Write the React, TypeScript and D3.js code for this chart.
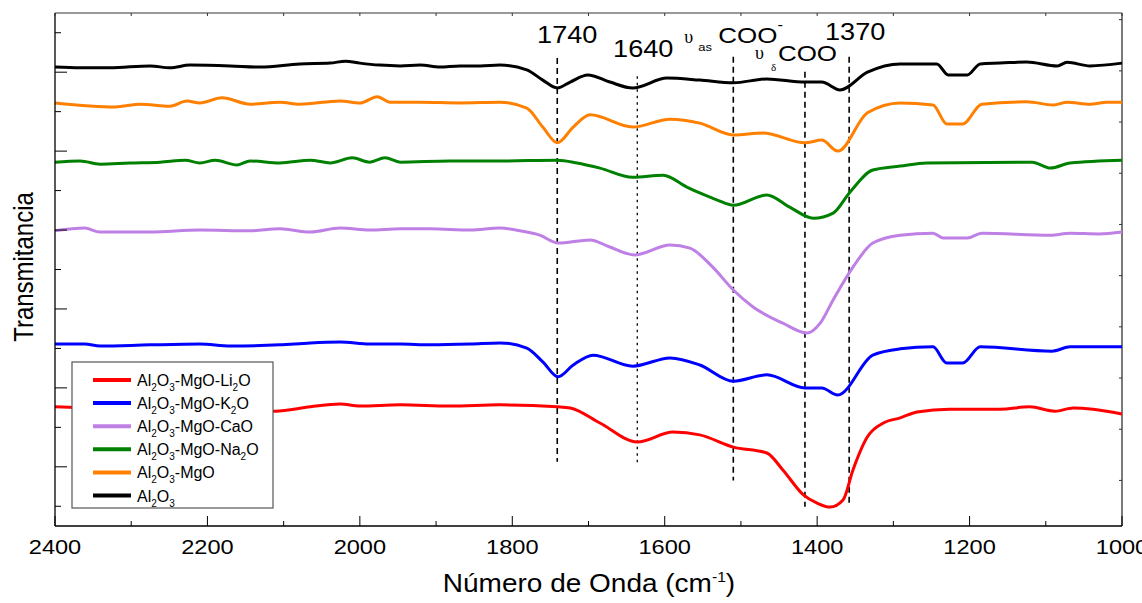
import * as d3 from 'd3';

// FTIR spectra, [wavenumber cm-1, transmittance a.u.]
const li2oData: [number, number][] = [
  [2400, 30.2], [2341, 29.9], [2275, 29.9], [2210, 29.6], [2144, 29.4], [2111, 29.1],
  [2065, 30.2], [2026, 30.9], [2000, 30.4], [1947, 30.7], [1882, 30.4], [1816, 30.7],
  [1741, 30.2], [1724, 29.9], [1685, 26.1], [1636, 21.3], [1589, 23.8], [1554, 23.1],
  [1510, 20.0], [1466, 18.5], [1445, 14.2], [1418, 7.9], [1400, 5.8], [1383, 4.8],
  [1366, 6.6], [1353, 14.2], [1334, 22.6], [1313, 26.1], [1291, 27.4], [1269, 28.9],
  [1226, 29.6], [1160, 29.6], [1121, 30.2], [1088, 29.1], [1064, 29.9], [1038, 29.6],
  [1000, 28.4],
];

const k2oData: [number, number][] = [
  [2400, 46.1], [2361, 46.1], [2341, 45.6], [2275, 45.9], [2210, 46.1], [2170, 45.6],
  [2105, 45.9], [2065, 46.4], [2026, 46.6], [1987, 46.1], [1947, 46.1], [1908, 45.9],
  [1855, 46.1], [1816, 46.4], [1781, 45.1], [1760, 41.6], [1740, 37.8], [1720, 40.8],
  [1694, 43.3], [1642, 40.5], [1593, 42.6], [1554, 40.8], [1510, 36.7], [1466, 38.3],
  [1416, 35.0], [1394, 35.0], [1373, 33.2], [1327, 43.3], [1291, 44.9], [1248, 45.4],
  [1230, 41.3], [1209, 41.3], [1186, 45.4], [1092, 44.3], [1068, 45.4], [1000, 45.4],
];

const caoData: [number, number][] = [
  [2400, 74.8], [2361, 75.5], [2341, 74.5], [2275, 74.5], [2210, 75.0], [2144, 74.8],
  [2105, 75.3], [2065, 74.5], [2026, 75.5], [1987, 75.0], [1947, 75.3], [1908, 75.3],
  [1855, 75.0], [1816, 75.5], [1790, 74.8], [1764, 73.7], [1740, 71.7], [1698, 72.5],
  [1672, 70.7], [1639, 68.7], [1593, 71.2], [1567, 70.4], [1537, 65.6], [1510, 59.8],
  [1484, 55.5], [1445, 51.4], [1413, 48.9], [1396, 51.4], [1379, 57.3], [1353, 65.6],
  [1327, 71.7], [1291, 73.7], [1248, 74.2], [1235, 73.0], [1203, 73.0], [1184, 74.2],
  [1094, 73.7], [1068, 74.2], [1030, 74.0], [1000, 74.5],
];

const na2oData: [number, number][] = [
  [2400, 92.2], [2367, 92.5], [2341, 91.7], [2302, 92.0], [2262, 92.2], [2229, 92.7],
  [2210, 92.0], [2190, 92.7], [2161, 91.5], [2144, 92.5], [2105, 92.0], [2065, 92.7],
  [2039, 92.0], [2010, 93.3], [1987, 92.2], [1967, 93.3], [1947, 92.2], [1882, 92.5],
  [1816, 92.5], [1741, 92.7], [1715, 92.0], [1685, 90.7], [1642, 88.4], [1602, 88.9],
  [1571, 85.9], [1554, 84.4], [1531, 82.6], [1510, 81.3], [1466, 83.9], [1436, 80.8],
  [1405, 78.0], [1379, 79.3], [1357, 84.6], [1327, 90.2], [1291, 91.2], [1256, 92.0],
  [1118, 92.2], [1094, 90.7], [1068, 92.0], [1000, 92.7],
];

const mgoData: [number, number][] = [
  [2400, 107.2], [2321, 106.2], [2288, 106.9], [2249, 106.4], [2227, 107.7], [2210, 107.2],
  [2181, 108.5], [2144, 106.9], [2105, 107.4], [2079, 106.9], [2026, 107.7], [2000, 107.2],
  [1977, 108.8], [1960, 107.4], [1921, 107.4], [1869, 107.2], [1816, 107.4], [1781, 105.9],
  [1760, 101.1], [1741, 97.1], [1720, 101.1], [1698, 104.2], [1642, 101.1], [1593, 103.1],
  [1554, 102.1], [1510, 99.1], [1471, 99.6], [1416, 97.1], [1394, 97.8], [1373, 95.0],
  [1334, 104.7], [1291, 107.2], [1248, 106.7], [1230, 101.9], [1209, 101.9], [1184, 106.9],
  [1125, 107.5], [1090, 106.7], [1072, 107.4], [1042, 106.9], [1020, 107.4], [1000, 107.4],
];

const al2o3Data: [number, number][] = [
  [2400, 116.3], [2367, 116.1], [2328, 116.1], [2275, 116.6], [2249, 116.1], [2223, 116.8],
  [2170, 116.6], [2131, 116.3], [2079, 117.1], [2039, 117.3], [2019, 117.8], [2000, 117.3],
  [1974, 116.8], [1947, 116.6], [1921, 116.8], [1895, 116.3], [1869, 116.6], [1842, 116.6],
  [1816, 116.8], [1781, 115.6], [1760, 113.0], [1741, 111.0], [1724, 112.5], [1701, 114.3],
  [1672, 112.5], [1642, 111.0], [1597, 113.5], [1554, 113.0], [1510, 112.3], [1466, 113.3],
  [1416, 112.5], [1394, 112.5], [1370, 110.5], [1334, 115.0], [1291, 117.1], [1243, 117.1],
  [1228, 114.3], [1203, 114.3], [1186, 117.1], [1160, 117.3], [1125, 117.6], [1085, 116.6],
  [1072, 117.5], [1042, 116.6], [1000, 117.3],
];

// legend order, top to bottom
const seriesLabels = [
  'Al_2O_3-MgO-Li_2O',
  'Al_2O_3-MgO-K_2O',
  'Al_2O_3-MgO-CaO',
  'Al_2O_3-MgO-Na_2O',
  'Al_2O_3-MgO',
  'Al_2O_3',
];
const seriesColors = ['#ff0000', '#0000ff', '#bf80e6', '#008000', '#ff8000', '#000000'];
const seriesData = [li2oData, k2oData, caoData, na2oData, mgoData, al2o3Data];

// vertical band markers
const markerWave = [1741, 1636, 1510, 1416, 1358];
const markerTop = [118.6, 114.0, 118.9, 115.1, 118.9];
const markerBottom = [16.3, 15.7, 11.5, 4.9, 5.8];
const markerDash = ['6,4', '2.5,4', '6,4', '6,4', '6,4'];

const xMajorTicks = [2400, 2200, 2000, 1800, 1600, 1400, 1200, 1000];
const xMinorTicks = [2300, 2100, 1900, 1700, 1500, 1300, 1100];
const yMajorTicks = [15, 35, 55, 75, 95, 115];
const yMinorTicks = [5, 25, 45, 65, 85, 105, 125];
const rightTicks = [0, 1, 2, 3, 4, 5, 6, 7, 8, 9];

const W = 1142;
const H = 603;
const left = 55;
const right = 1122;
const top = 13;
const bottom = 526;
const SANS = 'Liberation Sans, Arial, Helvetica, sans-serif';
const SERIF = 'Liberation Serif, Times New Roman, serif';
const SX = 1.18; // the original is a little wide

function subLabel(label: string, subSize: number, shift: number) {
  const parts = label.split(/_(\d)/);
  let down = false;
  return parts.map((p, i) => {
    if (i % 2 === 1) {
      down = true;
      return (
        <tspan key={i} fontSize={subSize} dy={shift}>
          {p}
        </tspan>
      );
    }
    const dy = down ? -shift : 0;
    down = false;
    return (
      <tspan key={i} dy={dy}>
        {p}
      </tspan>
    );
  });
}

export default function App() {
  const x = d3.scaleLinear().domain([2400, 1000]).range([left, right]);
  const y = d3.scaleLinear().domain([0, 130]).range([bottom, top]);
  const yRight = d3.scaleLinear().domain([-0.89, 9.13]).range([bottom, top]);

  const line = d3
    .line<[number, number]>()
    .x((d) => x(d[0]))
    .y((d) => y(d[1]))
    .curve(d3.curveMonotoneX);

  const legendX = 72;
  const legendY = 362;
  const rowH = 23.1;

  return (
    <svg
      width={W}
      height={H}
      style={{ position: 'absolute', left: 0, top: 0, background: '#fff' }}
      fontFamily={SANS}
    >
      <rect x={0} y={0} width={W} height={H} fill="#fff" />

      {/* frame */}
      <line x1={left} x2={right} y1={top} y2={top} stroke="#333" strokeWidth={1} />
      <line x1={right} x2={right} y1={top} y2={bottom} stroke="#222" strokeWidth={1.2} />

      {/* markers */}
      {markerWave.map((w, i) => (
        <line
          key={'m' + w}
          x1={x(w)}
          x2={x(w)}
          y1={y(markerTop[i])}
          y2={y(markerBottom[i])}
          stroke="#000"
          strokeWidth={i === 1 ? 1.3 : 1.6}
          strokeDasharray={markerDash[i]}
        />
      ))}

      {/* spectra */}
      {seriesData.map((d, i) => (
        <path
          key={seriesLabels[i]}
          d={line(d) || ''}
          fill="none"
          stroke={seriesColors[i]}
          strokeWidth={3}
          strokeLinejoin="round"
        />
      ))}

      {/* axes */}
      <line x1={left} x2={left} y1={top} y2={bottom} stroke="#000" strokeWidth={1.3} />
      <line x1={left} x2={right} y1={bottom} y2={bottom} stroke="#000" strokeWidth={1.3} />
      {yMajorTicks.map((t) => (
        <line key={'ym' + t} x1={left} x2={left + 12} y1={y(t)} y2={y(t)} stroke="#000" strokeWidth={1} />
      ))}
      {yMinorTicks.map((t) => (
        <line key={'yn' + t} x1={left} x2={left + 6} y1={y(t)} y2={y(t)} stroke="#000" strokeWidth={1} />
      ))}
      {rightTicks.map((t) => (
        <line key={'yr' + t} x1={right} x2={right - 3} y1={yRight(t)} y2={yRight(t)} stroke="#333" strokeWidth={1} />
      ))}
      {xMajorTicks.map((t) => (
        <line key={'xm' + t} x1={x(t)} x2={x(t)} y1={bottom} y2={bottom - 10} stroke="#000" strokeWidth={1} />
      ))}
      {xMinorTicks.map((t) => (
        <line key={'xn' + t} x1={x(t)} x2={x(t)} y1={bottom} y2={bottom - 5} stroke="#000" strokeWidth={1} />
      ))}
      {[...xMajorTicks, ...xMinorTicks].map((t) => (
        <line key={'xt' + t} x1={x(t)} x2={x(t)} y1={top} y2={top + 3} stroke="#333" strokeWidth={1} />
      ))}
      {xMajorTicks.map((t) => (
        <text
          key={'xl' + t}
          transform={`translate(${x(t)},554) scale(${SX},1)`}
          textAnchor="middle"
          fontSize={20}
          fill="#000"
        >
          {t}
        </text>
      ))}

      {/* axis titles */}
      <text transform={`translate(589,592) scale(${SX - 0.06},1)`} textAnchor="middle" fontSize={25} fill="#000">
        <tspan>Número de Onda (cm</tspan>
        <tspan fontSize={14} dy={-10}>-1</tspan>
        <tspan dy={10}>)</tspan>
      </text>
      <text transform={`translate(33,267) scale(${SX},1) rotate(-90)`} textAnchor="middle" fontSize={24} fill="#000">
        Transmitancia
      </text>

      {/* band annotations */}
      <text transform={`translate(${x(1741) + 10},43) scale(${SX},1)`} textAnchor="middle" fontSize={23}>
        1740
      </text>
      <text transform={`translate(${x(1636) + 6},57) scale(${SX},1)`} textAnchor="middle" fontSize={23}>
        1640
      </text>
      <text transform={`translate(${x(1636) + 47},43)`} fontSize={18} fontFamily={SERIF}>
        υ
      </text>
      <text transform={`translate(${x(1636) + 61},51) scale(${SX},1)`} fontSize={11}>
        as
      </text>
      <text transform={`translate(${x(1510) - 15},43) scale(${SX},1)`} fontSize={22}>
        COO
        <tspan fontSize={14} dy={-13}>-</tspan>
      </text>
      <text transform={`translate(${x(1416) - 50},59)`} fontSize={18} fontFamily={SERIF}>
        υ
      </text>
      <text transform={`translate(${x(1416) - 34},71)`} fontSize={11} fontFamily={SERIF}>
        δ
      </text>
      <text transform={`translate(${x(1416) - 27},61) scale(${SX},1)`} fontSize={22}>
        COO
      </text>
      <text transform={`translate(${x(1358) + 6},40) scale(${SX},1)`} textAnchor="middle" fontSize={23}>
        1370
      </text>

      {/* legend */}
      <rect
        x={legendX}
        y={legendY}
        width={201}
        height={146}
        fill="#fff"
        stroke="#555"
        strokeWidth={1.2}
      />
      {seriesLabels.map((label, i) => {
        const ly = legendY + 18 + rowH * i;
        return (
          <g key={'lg' + label}>
            <line x1={93} x2={131} y1={ly} y2={ly} stroke={seriesColors[i]} strokeWidth={4} />
            <text x={137} y={ly + 6} fontSize={16} fill="#000">
              {subLabel(label, 10, 5)}
            </text>
          </g>
        );
      })}
    </svg>
  );
}
